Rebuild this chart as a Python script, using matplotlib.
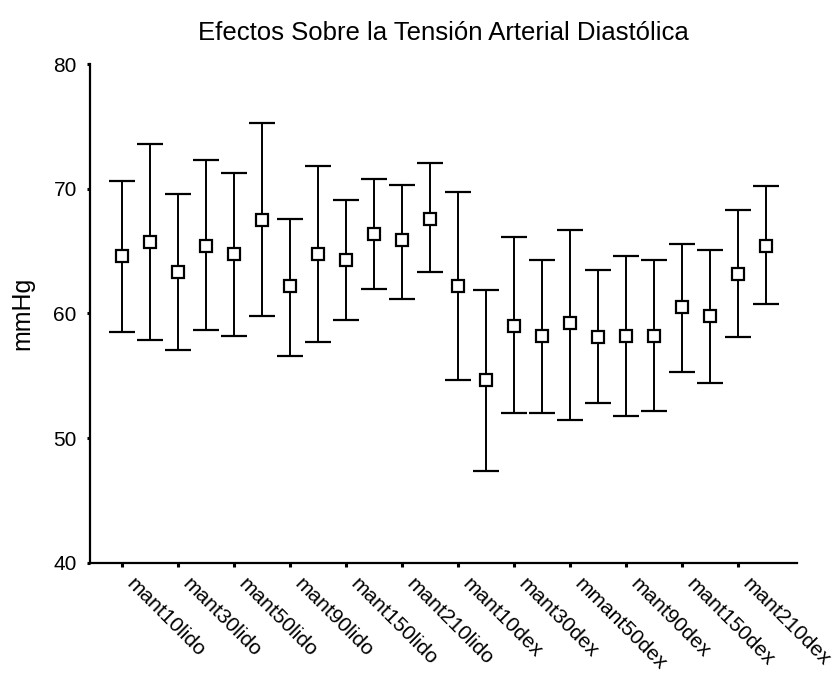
import numpy as np
import matplotlib
matplotlib.use("Agg")
from matplotlib import pyplot as plt

plt.rcParams['font.family'] = ['Liberation Sans', 'DejaVu Sans']

# medias y limites de las barras de error (mmHg)
means = [64.6, 65.7, 63.3, 65.4, 64.8, 67.5, 62.2, 64.8, 64.3, 66.4, 65.9, 67.6,
         62.2, 54.7, 59.0, 58.2, 59.2, 58.1, 58.2, 58.2, 60.5, 59.8, 63.2, 65.4]
upper = [70.6, 73.6, 69.6, 72.3, 71.3, 75.3, 67.6, 71.8, 69.1, 70.8, 70.3, 72.1,
         69.7, 61.9, 66.1, 64.3, 66.7, 63.5, 64.6, 64.3, 65.6, 65.1, 68.3, 70.2]
lower = [58.5, 57.9, 57.1, 58.7, 58.2, 59.8, 56.6, 57.7, 59.5, 62.0, 61.2, 63.3,
         54.7, 47.4, 52.0, 52.0, 51.5, 52.8, 51.8, 52.2, 55.3, 54.4, 58.1, 60.8]
labels = ["mant10lido", "mant30lido", "mant50lido", "mant90lido", "mant150lido",
          "mant210lido", "mant10dex", "mant30dex", "mmant50dex", "mant90dex",
          "mant150dex", "mant210dex"]

x = np.arange(len(means))
means = np.array(means)
yerr = [means - np.array(lower), np.array(upper) - means]

fig = plt.figure(figsize=(8.38, 6.76), dpi=100)
ax = fig.add_axes([0.1074, 0.1672, 0.8436, 0.7381])

ax.errorbar(x, means, yerr=yerr, fmt='s', color='black', ecolor='black',
            elinewidth=1.4, capsize=9.7, capthick=1.6,
            markersize=8.5, markerfacecolor='white', markeredgecolor='black',
            markeredgewidth=1.6)

ax.set_xlim(-1.15, 24.1)
ax.set_ylim(40, 80)
ax.set_yticks([40, 50, 60, 70, 80])
ticks = x[::2]
ax.set_xticks(ticks)
ax.set_xticklabels([])

# etiquetas giradas, empiezan a la derecha de cada marca
for xt, lab in zip(ticks, labels):
    ax.annotate(lab, xy=(xt, 0), xycoords=ax.get_xaxis_transform(),
                xytext=(2.5, -16), textcoords='offset points',
                rotation=-45, rotation_mode='anchor', ha='left', va='baseline',
                fontsize=15, annotation_clip=False)

for s in ['top', 'right']:
    ax.spines[s].set_visible(False)
for s in ['left', 'bottom']:
    ax.spines[s].set_linewidth(1.6)

ax.tick_params(axis='y', direction='out', length=2.5, width=2.2, labelsize=15, pad=7)
ax.tick_params(axis='x', direction='out', length=3, width=2.2)

ax.set_ylabel("mmHg", fontsize=18)
ax.yaxis.set_label_coords(-0.079, 0.5)
ax.set_title("Efectos Sobre la Tensión Arterial Diastólica", fontsize=18.5, pad=17)

plt.savefig("out.png", dpi=100)
